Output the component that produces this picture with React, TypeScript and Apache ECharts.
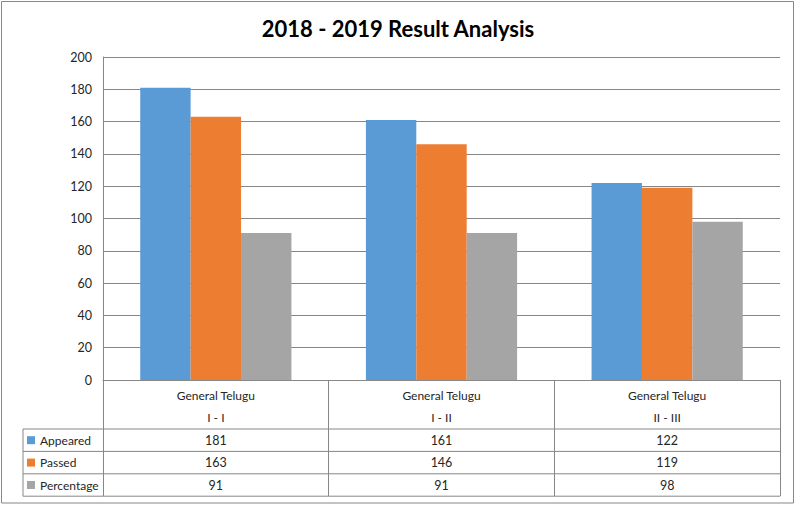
import React, { useEffect, useRef } from "react";
import * as echarts from "echarts";

const subjects = ["General Telugu", "General Telugu", "General Telugu"];
const years = ["I - I", "I - II", "II - III"];
const seriesNames = ["Appeared", "Passed", "Percentage"];
const appeared = [181, 161, 122];
const passed = [163, 146, 119];
const percentage = [91, 91, 98];
const yTicks = { min: 0, max: 200, interval: 20 };

const colors = ["#5B9BD5", "#ED7D31", "#A5A5A5"];
const W = 796;
const H = 505;
const gridLeft = 103;
const gridRight = 780;
const gridTop = 57;
const gridBottom = 380;
const tableTop = 429;
const rowH = 22.4;
const legendLeft = 23;
const lineColor = "#878787";
const textColor = "#262626";
const font = "Lato, 'Noto Sans', sans-serif";

export default function App() {
  const ref = useRef<HTMLDivElement>(null);
  useEffect(() => {
    document.body.style.margin = "0";
    const chart = echarts.init(ref.current!, undefined, { renderer: "svg" });
    const values = [appeared, passed, percentage];
    const categoryLabels = subjects.map((s, i) => s + "\n" + years[i]);

    const rowAxes = values.map((vals, i) => ({
      type: "category",
      gridIndex: 0,
      position: "bottom",
      offset: tableTop - gridBottom + rowH * i + rowH / 2,
      data: vals.map(String),
      axisLine: { show: false },
      axisTick: { show: false },
      splitLine: { show: false },
      axisLabel: {
        interval: 0,
        margin: 0,
        verticalAlign: "middle",
        fontSize: 12.5,
        color: textColor,
        fontFamily: font,
      },
    }));

    const graphics: any[] = [
      {
        type: "rect",
        shape: { x: 1.5, y: 1.5, width: W - 4, height: H - 3.5 },
        style: { fill: "none", stroke: lineColor, lineWidth: 1 },
        silent: true,
      },
      {
        type: "line",
        shape: { x1: legendLeft, y1: tableTop, x2: legendLeft, y2: tableTop + rowH * 3 },
        style: { stroke: lineColor, lineWidth: 1 },
        silent: true,
      },
    ];
    for (let i = 0; i <= 3; i++) {
      graphics.push({
        type: "line",
        shape: { x1: legendLeft, y1: tableTop + rowH * i, x2: gridRight, y2: tableTop + rowH * i },
        style: { stroke: lineColor, lineWidth: 1 },
        silent: true,
      });
    }

    chart.setOption({
      animation: false,
      backgroundColor: "#ffffff",
      title: {
        text: "2018 - 2019 Result Analysis",
        left: "center",
        top: 12,
        textStyle: { fontSize: 22, fontWeight: "bold", color: "#000", fontFamily: font },
      },
      legend: {
        orient: "vertical",
        left: legendLeft + 4,
        top: tableTop,
        padding: 0,
        itemGap: 0,
        itemWidth: 8,
        itemHeight: 8,
        icon: "rect",
        selectedMode: false,
        data: seriesNames,
        textStyle: { fontSize: 12, lineHeight: rowH, color: textColor, fontFamily: font },
      },
      grid: {
        left: gridLeft,
        right: W - gridRight,
        top: gridTop,
        bottom: H - gridBottom,
        containLabel: false,
      },
      xAxis: [
        {
          type: "category",
          data: categoryLabels,
          axisLine: { show: true, lineStyle: { color: lineColor } },
          axisTick: {
            show: true,
            interval: 0,
            alignWithLabel: false,
            length: tableTop + rowH * 3 - gridBottom,
            lineStyle: { color: lineColor },
          },
          axisLabel: {
            interval: 0,
            margin: 4,
            fontSize: 12,
            lineHeight: 22,
            color: textColor,
            fontFamily: font,
          },
        },
        ...rowAxes,
      ],
      yAxis: {
        type: "value",
        min: yTicks.min,
        max: yTicks.max,
        interval: yTicks.interval,
        axisLine: { show: true, lineStyle: { color: lineColor } },
        axisTick: { show: false },
        splitLine: { show: true, lineStyle: { color: lineColor } },
        axisLabel: { fontSize: 12.5, margin: 11, color: textColor, fontFamily: font },
      },
      series: values.map((vals, i) => ({
        name: seriesNames[i],
        type: "bar",
        xAxisIndex: 0,
        data: vals,
        itemStyle: { color: colors[i] },
        barGap: "0%",
        barCategoryGap: "33%",
      })),
      graphic: graphics,
    });
    return () => chart.dispose();
  }, []);
  return <div ref={ref} style={{ width: W, height: H }} />;
}
